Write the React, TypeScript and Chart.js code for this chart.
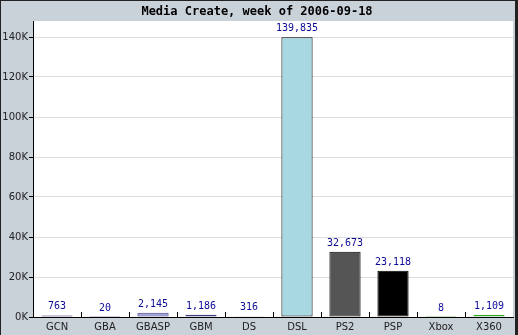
import React, { useEffect, useRef } from "react";
import { Chart, registerables } from "chart.js";

Chart.register(...registerables);

const categories = ["GCN", "GBA", "GBASP", "GBM", "DS", "DSL", "PS2", "PSP", "Xbox", "X360"];
const unitsSold = [763, 20, 2145, 1186, 316, 139835, 32673, 23118, 8, 1109];
const barColors = ["#6a5acd", "#8080c0", "#a0a0e0", "#c8c8f0", "#202020", "#a8d8e2", "#555555", "#000000", "#44cc44", "#66ee44"];
const barBorders = ["#302070", "#404080", "#404080", "#404080", "#000000", "#000000", "#000000", "#000000", "#228822", "#33aa22"];
const titleText = "Media Create, week of 2006-09-18";
const yMax = 148000;
const yTickValues = [0, 20000, 40000, 60000, 80000, 100000, 120000, 140000];

const BG = "#c9d1d9";

const frame = {
  id: "frame",
  beforeDraw(chart: any) {
    const { ctx, width, height, chartArea } = chart;
    ctx.save();
    ctx.fillStyle = BG;
    ctx.fillRect(0, 0, width, height);
    ctx.fillStyle = "#ffffff";
    ctx.fillRect(chartArea.left, chartArea.top, chartArea.right - chartArea.left, chartArea.bottom - chartArea.top);
    ctx.restore();
  },
  afterDraw(chart: any) {
    const { ctx, width, height, chartArea, scales } = chart;
    ctx.save();
    const xs = scales.x;
    ctx.strokeStyle = "#000";
    ctx.lineWidth = 1;
    ctx.beginPath();
    for (let i = 1; i < categories.length; i++) {
      const px = Math.round((xs.getPixelForValue(i - 1) + xs.getPixelForValue(i)) / 2) + 0.5;
      ctx.moveTo(px, chartArea.bottom);
      ctx.lineTo(px, chartArea.bottom - 5);
    }
    ctx.stroke();
    const meta = chart.getDatasetMeta(0);
    ctx.fillStyle = "#0a0a96";
    ctx.font = "10px 'DejaVu Sans Mono'";
    ctx.textAlign = "center";
    ctx.textBaseline = "alphabetic";
    meta.data.forEach((bar: any, i: number) => {
      const v = unitsSold[i];
      ctx.fillText(v.toLocaleString("en-US"), bar.x, bar.y - 6);
    });
    ctx.fillStyle = "#222";
    ctx.fillRect(0, 0, width, 1);
    ctx.fillRect(0, 0, 1, height);
    ctx.fillRect(width - 3, 0, 3, height);
    ctx.restore();
  },
};

export default function App() {
  const ref = useRef<HTMLCanvasElement | null>(null);
  useEffect(() => {
    document.body.style.margin = "0";
    const chart = new Chart(ref.current!, {
      type: "bar",
      data: {
        labels: categories,
        datasets: [
          {
            data: unitsSold,
            backgroundColor: barColors,
            borderColor: barBorders,
            borderWidth: 1,
            borderSkipped: false,
            barPercentage: 0.65,
            categoryPercentage: 1,
          },
        ],
      },
      options: {
        animation: false,
        responsive: false,
        devicePixelRatio: 1,
        layout: { padding: { left: 1, right: 5, top: 0, bottom: 0 } },
        plugins: {
          legend: { display: false },
          tooltip: { enabled: false },
          title: {
            display: true,
            text: titleText,
            color: "#000",
            font: { family: "'DejaVu Sans Mono'", size: 12, weight: "bold", lineHeight: 1.25 },
            padding: { top: 4, bottom: 2 },
          },
        },
        scales: {
          x: {
            grid: { display: false, drawTicks: false },
            border: { display: true, color: "#000", width: 1 },
            ticks: { color: "#222", font: { family: "'DejaVu Sans'", size: 10 }, padding: 4, maxRotation: 0, autoSkip: false },
            afterFit: (s: any) => { s.height = 18; },
          },
          y: {
            min: 0,
            max: yMax,
            afterBuildTicks: (s: any) => { s.ticks = yTickValues.map((v) => ({ value: v })); },
            ticks: {
              color: "#222",
              font: { family: "'DejaVu Sans'", size: 10 },
              padding: 1,
              callback: (v: any) => (Number(v) / 1000) + "K",
            },
            grid: { color: "#dddddd", tickColor: "#000", tickLength: 4 },
            border: { display: true, color: "#000", width: 1 },
            afterFit: (s: any) => { s.width = 32; },
          },
        },
      },
      plugins: [frame],
    });
    return () => chart.destroy();
  }, []);
  return (
    <div style={{ position: "fixed", left: 0, top: 0, width: 518, height: 335 }}>
      <canvas ref={ref} width={518} height={335} style={{ width: 518, height: 335, display: "block" }} />
    </div>
  );
}
